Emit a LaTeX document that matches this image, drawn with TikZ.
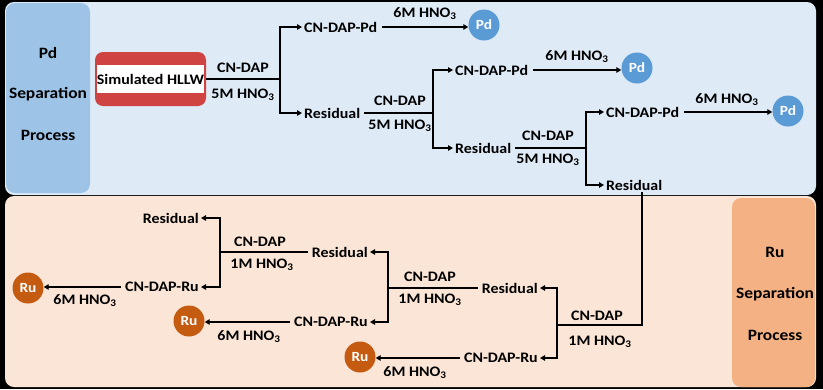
\documentclass[tikz,border=0pt]{standalone}
\usepackage{fontspec}
\setmainfont{Carlito}[FakeStretch=1.1]
\usetikzlibrary{arrows.meta}
\definecolor{pdbg}{HTML}{DEEBF7}
\definecolor{pdside}{HTML}{9DC3E6}
\definecolor{pdcirc}{HTML}{5B9BD5}
\definecolor{rubg}{HTML}{FBE5D6}
\definecolor{ruside}{HTML}{F4B183}
\definecolor{rucirc}{HTML}{C55A11}
\definecolor{hllwred}{HTML}{D04343}
\begin{document}
\begin{tikzpicture}[x=1pt,y=-1pt,
  every node/.style={font=\bfseries\fontsize{14.5}{16}\selectfont, inner sep=2pt},
  side/.style={font=\bfseries\fontsize{15.8}{19}\selectfont},
  pdc/.style={circle, fill=pdcirc, text=white, minimum size=31pt, inner sep=0pt, font=\bfseries\fontsize{14}{16}\selectfont},
  ruc/.style={circle, fill=rucirc, text=white, minimum size=31pt, inner sep=0pt, font=\bfseries\fontsize{14}{16}\selectfont},
  ln/.style={line width=1.8pt, black},
  arr/.style={ln, -{Triangle[length=5pt,width=5.5pt]}}
]
\useasboundingbox (0,0) rectangle (823,389);
\fill[black] (0,0) rectangle (823,389);
% panels
\fill[pdbg, rounded corners=9pt] (5,2) rectangle (816,195);
\fill[rubg, rounded corners=9pt] (5,196) rectangle (816,387);
\fill[pdside, rounded corners=9pt] (6,3) rectangle (90,193);
\fill[ruside, rounded corners=9pt] (732,198) rectangle (815,387);
\node[side] (pdt1) at (48,53) {Pd};
\node[side] (pdt2) at (48,94) {Separation};
\node[side] (pdt3) at (48,135) {Process};
\node[side] (rut1) at (775,252) {Ru};
\node[side] (rut2) at (775,294) {Separation};
\node[side] (rut3) at (775,335) {Process};
% HLLW
\node[fill=hllwred, rounded corners=8pt, minimum width=111pt, minimum height=54pt] (hllwbox) at (150.5,79) {};
\node[fill=white, minimum width=105pt, minimum height=28pt, inner sep=0pt] (hllw) at (150.5,79) {Simulated HLLW};
% stage 1
\coordinate (b1) at (280,79);
\node (l1a) at (243,68) {CN-DAP};
\node (l1b) at (243,95) {5M HNO\textsubscript{3}};
\node[anchor=west] (pd1) at (302,27) {CN-DAP-Pd};
\node[anchor=west] (r1) at (302,113) {Residual};
\node[pdc] (c1) at (484,25) {Pd};
\node (l1c) at (425,14) {6M HNO\textsubscript{3}};
\draw[ln] (hllwbox.east |- b1) -- (b1);
\draw[arr] (b1) |- (pd1.west);
\draw[arr] (b1) |- (r1.west);
\draw[arr] ([xshift=3pt]pd1.east) -- (c1.west |- pd1.east);
% stage 2
\coordinate (b2) at (433,113);
\node (l2a) at (400,101) {CN-DAP};
\node (l2b) at (400,126) {5M HNO\textsubscript{3}};
\node[anchor=west] (pd2) at (453,70) {CN-DAP-Pd};
\node[anchor=west] (r2) at (453,148) {Residual};
\node[pdc] (c2) at (637,68) {Pd};
\node (l2c) at (577,57) {6M HNO\textsubscript{3}};
\draw[ln] ([xshift=2pt]r1.east) -- (b2);
\draw[arr] (b2) |- (pd2.west);
\draw[arr] (b2) |- (r2.west);
\draw[arr] ([xshift=3pt]pd2.east) -- (c2.west |- pd2.east);
% stage 3
\coordinate (b3) at (586,148);
\node (l3a) at (548,136) {CN-DAP};
\node (l3b) at (548,160) {5M HNO\textsubscript{3}};
\node[anchor=west] (pd3) at (604,112) {CN-DAP-Pd};
\node[anchor=west] (r3) at (604,185) {Residual};
\node[pdc] (c3) at (788,111) {Pd};
\node (l3c) at (727,100) {6M HNO\textsubscript{3}};
\draw[ln] ([xshift=2pt]r2.east) -- (b3);
\draw[arr] (b3) |- (pd3.west);
\draw[arr] (b3) |- (r3.west);
\draw[arr] ([xshift=3pt]pd3.east) -- (c3.west |- pd3.east);
% Ru stage 1
\coordinate (b4) at (557,325);
\coordinate (r3down) at (642,196);
\node (l4a) at (597,316) {CN-DAP};
\node (l4b) at (600,342) {1M HNO\textsubscript{3}};
\node[anchor=east] (r4) at (540,288) {Residual};
\node[anchor=east] (ru1) at (540,358) {CN-DAP-Ru};
\node[ruc] (c4) at (360,357) {Ru};
\node (l4c) at (415,373) {6M HNO\textsubscript{3}};
\draw[ln] (r3.south -| r3down) -- (r3down |- b4) -- (b4);
\draw[arr] (b4) |- (r4.east);
\draw[arr] (b4) |- (ru1.east);
\draw[arr] ([xshift=-2pt]ru1.west) -- (c4.east |- ru1.west);
% Ru stage 2
\coordinate (b5) at (388,288);
\node (l5a) at (430,277) {CN-DAP};
\node (l5b) at (430,300) {1M HNO\textsubscript{3}};
\node[anchor=east] (r5) at (370,252) {Residual};
\node[anchor=east] (ru2) at (370,322) {CN-DAP-Ru};
\node[ruc] (c5) at (189,321) {Ru};
\node (l5c) at (249,337) {6M HNO\textsubscript{3}};
\draw[ln] ([xshift=-2pt]r4.west) -- (b5);
\draw[arr] (b5) |- (r5.east);
\draw[arr] (b5) |- (ru2.east);
\draw[arr] ([xshift=-2pt]ru2.west) -- (c5.east |- ru2.west);
% Ru stage 3
\coordinate (b6) at (220,252);
\node (l6a) at (260,242) {CN-DAP};
\node (l6b) at (262,265) {1M HNO\textsubscript{3}};
\node[anchor=east] (r6) at (201,218) {Residual};
\node[anchor=east] (ru3) at (201,287) {CN-DAP-Ru};
\node[ruc] (c6) at (28,288) {Ru};
\node (l6c) at (85,301) {6M HNO\textsubscript{3}};
\draw[ln] ([xshift=-2pt]r5.west) -- (b6);
\draw[arr] (b6) |- (r6.east);
\draw[arr] (b6) |- (ru3.east);
\draw[arr] ([xshift=-2pt]ru3.west) -- (c6.east |- ru3.west);
\end{tikzpicture}
\end{document}
